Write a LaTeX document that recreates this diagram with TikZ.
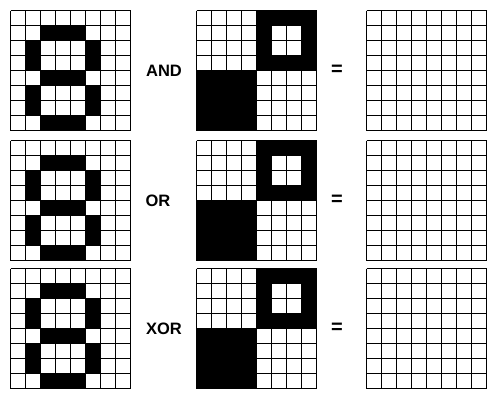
\documentclass[tikz,border=0pt]{standalone}
\usepackage{fontspec}
\setmainfont{Liberation Sans}
\tikzset{
  gridline/.style={draw=black, line width=1.2pt},
  cellfill/.style={fill=black},
  oplabel/.style={font=\fontsize{16.5}{17}\selectfont\bfseries, inner sep=0pt, anchor=center},
  eqlabel/.style={font=\fontsize{20}{20}\selectfont\bfseries, inner sep=0pt, anchor=center},
}
\newcommand\mypixgrid{%
  \foreach \v in {0,15,30,45,60,75,90,105,120}{
    \draw[gridline] (\v,0) -- (\v,120);
    \draw[gridline] (0,\v) -- (120,\v);
  }%
}
\begin{document}
\begin{tikzpicture}[x=1pt,y=-1pt]
\useasboundingbox (0,0) rectangle (502,407);
\fill[white] (0,0) rectangle (502,407);
\foreach \yo/\op/\opx in {10.5/AND/164, 140.5/OR/158, 268.5/XOR/164}{
  % digit eight
  \begin{scope}[shift={(10.5,\yo)}]
    \foreach \r in {1,4,7} \fill[cellfill] (30,15*\r) rectangle (75,15*\r+15);
    \foreach \c in {1,5} {
      \fill[cellfill] (15*\c,30) rectangle (15*\c+15,60);
      \fill[cellfill] (15*\c,75) rectangle (15*\c+15,105);
    }
    \mypixgrid
  \end{scope}
  % mask
  \begin{scope}[shift={(196.5,\yo)}]
    \fill[cellfill] (0,60) rectangle (60,120);
    \fill[cellfill] (60,0) rectangle (120,60);
    \fill[white] (75,15) rectangle (105,45);
    \mypixgrid
  \end{scope}
  % result
  \begin{scope}[shift={(366.5,\yo)}]
    \mypixgrid
  \end{scope}
  \node[oplabel] (op\op) at (\opx,\yo+60.5) {\op};
  \node[eqlabel] (eq\op) at (337,\yo+59.5) {=};
}
\end{tikzpicture}
\end{document}
